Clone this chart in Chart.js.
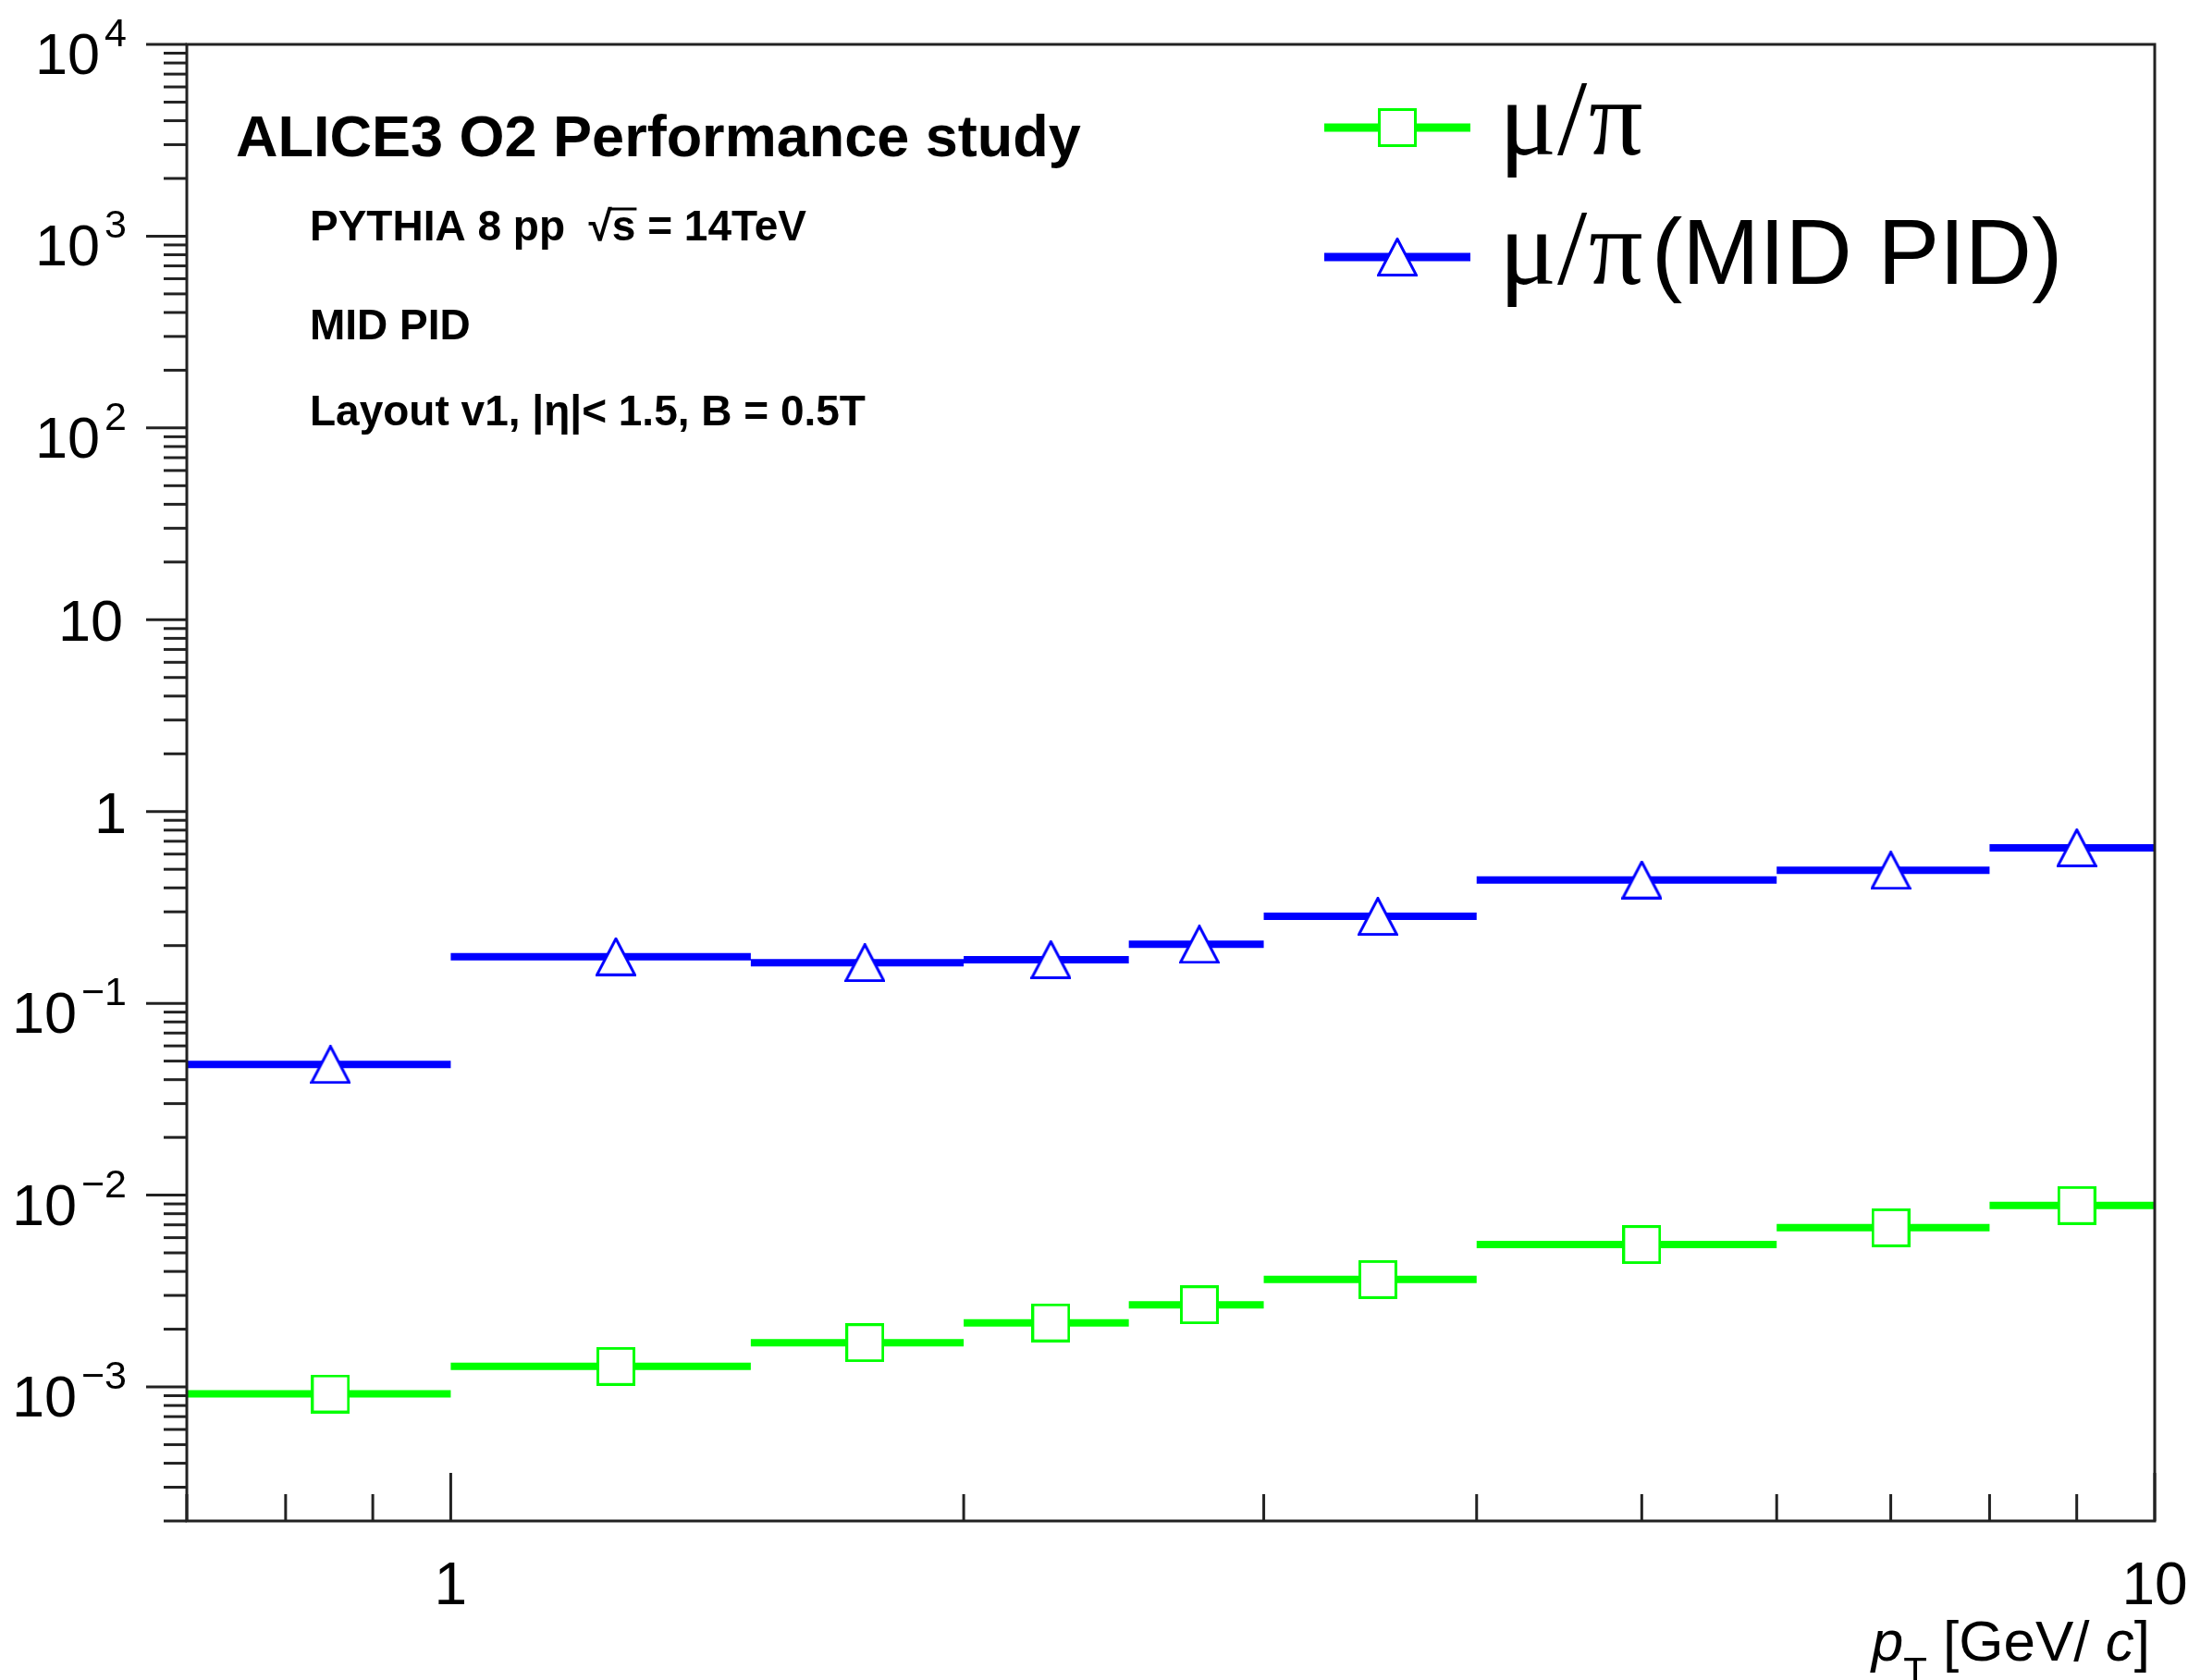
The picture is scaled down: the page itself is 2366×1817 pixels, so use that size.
<!DOCTYPE html>
<html>
<head>
<meta charset="utf-8">
<script src="https://cdn.jsdelivr.net/npm/chart.js@4.4.1/dist/chart.umd.min.js"></script>
<style>
  html, body { margin: 0; padding: 0; background: #fff; }
  canvas { display: block; }
</style>
</head>
<body>
<canvas id="canvas" width="2366" height="1817"></canvas>
<script>
// pT bin edges [GeV/c]
let binEdges = [0.7, 1, 1.5, 2, 2.5, 3, 4, 6, 8, 10];

// mu/pi ratio per bin
let muPi = [0.00092, 0.00128, 0.0017, 0.00216, 0.00268, 0.00363, 0.00552, 0.00676, 0.00883];

// mu/pi ratio per bin with MID PID
let muPiMID = [0.048, 0.175, 0.163, 0.169, 0.203, 0.284, 0.44, 0.494, 0.647];

// axis labels ('^' separates the exponent)
let yTickValues = [1e-3, 1e-2, 1e-1, 1, 10, 100, 1000, 10000];
let yTickLabels = ['10^\u22123', '10^\u22122', '10^\u22121', '1', '10', '10^2', '10^3', '10^4'];
let xTickValues = [1, 10];
let xTickLabels = ['1', '10'];

let seriesNames = ['\u03bc/\u03c0', '\u03bc/\u03c0(MID PID)'];

const GREEN = '#00ff00';
const BLUE = '#0000ff';
const SANS = '"Liberation Sans", Arial, Helvetica, sans-serif';
const SERIF = '"Liberation Serif", "Times New Roman", serif';

// histogram as flat segments, one per bin, with a gap after each
function histSegments(values) {
  let pts = [];
  for (let i = 0; i < values.length; i++) {
    pts.push({x: binEdges[i], y: values[i]});
    pts.push({x: binEdges[i + 1], y: values[i]});
    pts.push({x: binEdges[i + 1], y: null});
  }
  return pts;
}

// markers sit at the bin centres
function binCentres(values) {
  let pts = [];
  for (let i = 0; i < values.length; i++) {
    pts.push({x: (binEdges[i] + binEdges[i + 1]) / 2, y: values[i]});
  }
  return pts;
}

// open markers like ROOT's (white inside)
function makeMarker(shape, color, w, h) {
  let c = document.createElement('canvas');
  c.width = w; c.height = h;
  let g = c.getContext('2d');
  g.fillStyle = '#fff';
  g.strokeStyle = color;
  g.lineWidth = 3;
  g.beginPath();
  if (shape === 'square') {
    g.rect(1.5, 1.5, w - 3, h - 3);
  } else {
    g.moveTo(w / 2, 1.5);
    g.lineTo(w - 1.5, h - 1.5);
    g.lineTo(1.5, h - 1.5);
    g.closePath();
  }
  g.fill();
  g.stroke();
  return c;
}

let squareMarker = makeMarker('square', GREEN, 42, 42);
let triangleMarker = makeMarker('triangle', BLUE, 44, 42);

function strokeLine(ctx, x1, y1, x2, y2) {
  ctx.beginPath();
  ctx.moveTo(x1, y1);
  ctx.lineTo(x2, y2);
  ctx.stroke();
}

// frame, ticks, labels, texts and legend drawn ROOT style
const rootStyle = {
  id: 'rootStyle',
  afterDatasetsDraw(chart) {
    let ctx = chart.ctx;
    let a = chart.chartArea;
    let xs = chart.scales.x;
    let ys = chart.scales.y;
    ctx.save();

    // frame
    ctx.strokeStyle = '#222';
    ctx.lineWidth = 3;
    ctx.strokeRect(a.left, a.top, a.right - a.left, a.bottom - a.top);

    // y ticks, outward
    for (let e = -4; e <= 4; e++) {
      for (let m = 1; m <= 9; m++) {
        let v = m * Math.pow(10, e);
        if (v < 2e-4 * 0.999 || v > 1e4 * 1.001) continue;
        let y = ys.getPixelForValue(v);
        let len = (m === 1) ? 44 : 25;
        strokeLine(ctx, a.left - len, y, a.left, y);
      }
    }
    // x ticks, inward
    for (let e = -1; e <= 1; e++) {
      for (let m = 1; m <= 9; m++) {
        let v = m * Math.pow(10, e);
        if (v < 0.7 * 0.999 || v > 10 * 1.001) continue;
        let x = xs.getPixelForValue(v);
        let len = (m === 1) ? 52 : 29;
        strokeLine(ctx, x, a.bottom, x, a.bottom - len);
      }
    }

    // y labels
    ctx.fillStyle = '#000';
    ctx.textAlign = 'right';
    ctx.textBaseline = 'alphabetic';
    for (let i = 0; i < yTickValues.length; i++) {
      let y = ys.getPixelForValue(yTickValues[i]);
      let parts = yTickLabels[i].split('^');
      let right = 137;
      if (parts.length === 2) {
        ctx.font = '43px ' + SANS;
        let supW = ctx.measureText(parts[1]).width;
        ctx.fillText(parts[1], right, y + 2);
        ctx.font = '63px ' + SANS;
        ctx.fillText(parts[0], right - supW - 5, y + 32);
      } else {
        ctx.font = '63px ' + SANS;
        ctx.fillText(parts[0], parts[0] === '10' ? 133 : right, y + 23);
      }
    }

    // x labels
    ctx.textAlign = 'center';
    ctx.font = '64px ' + SANS;
    for (let i = 0; i < xTickValues.length; i++) {
      ctx.fillText(xTickLabels[i], xs.getPixelForValue(xTickValues[i]), 1735);
    }

    // x title: p_T [GeV/c], right aligned
    let pieces = [
      {t: 'p', f: 'italic 62px ' + SANS, dy: 0},
      {t: 'T', f: '42px ' + SANS, dy: 26},
      {t: ' [GeV/ ', f: '62px ' + SANS, dy: 0},
      {t: 'c', f: 'italic 62px ' + SANS, dy: 0},
      {t: ']', f: '62px ' + SANS, dy: 0}
    ];
    let total = 0;
    for (let p of pieces) { ctx.font = p.f; p.w = ctx.measureText(p.t).width; total += p.w; }
    let px = 2325 - total;
    ctx.textAlign = 'left';
    for (let p of pieces) {
      ctx.font = p.f;
      ctx.fillText(p.t, px, 1796 + p.dy);
      px += p.w;
    }

    // header texts
    ctx.font = 'bold 63px ' + SANS;
    ctx.fillText('ALICE3 O2 Performance study', 255, 169);
    ctx.font = 'bold 46px ' + SANS;
    let t1 = 'PYTHIA 8 pp  \u221a';
    ctx.fillText(t1, 335, 260);
    let sx = 335 + ctx.measureText(t1).width;
    let sw = ctx.measureText('s').width;
    ctx.fillText('s', sx, 260);
    ctx.lineWidth = 3;
    ctx.strokeStyle = '#000';
    strokeLine(ctx, sx - 2, 226, sx + sw + 1, 226);
    ctx.fillText(' = 14TeV', sx + sw, 260);
    ctx.fillText('MID PID', 335, 367);
    ctx.fillText('Layout v1, |\u03b7|< 1.5, B = 0.5T', 335, 460);

    // legend
    let entries = [
      {color: GREEN, marker: squareMarker, y: 138, name: seriesNames[0]},
      {color: BLUE, marker: triangleMarker, y: 278, name: seriesNames[1]}
    ];
    for (let en of entries) {
      ctx.strokeStyle = en.color;
      ctx.lineWidth = 9;
      strokeLine(ctx, 1432, en.y, 1590, en.y);
      ctx.drawImage(en.marker, 1511 - en.marker.width / 2, en.y - en.marker.height / 2);
      // greek part in serif, rest in sans
      let base = en.y + 29;
      ctx.font = '116px ' + SERIF;
      ctx.fillText('\u03bc', 1621, base);
      ctx.fillText('/', 1684, base);
      ctx.fillText('\u03c0', 1718, base);
      let rest = en.name.slice(3);
      if (rest) {
        ctx.font = '100px ' + SANS;
        ctx.fillText(rest, 1786, base);
      }
    }

    ctx.restore();
  }
};

let options = {
  type: 'scatter',
  data: {
    datasets: [
      {
        data: binCentres(muPi),
        pointStyle: squareMarker,
        pointRadius: 21,
        order: 0
      },
      {
        data: binCentres(muPiMID),
        pointStyle: triangleMarker,
        pointRadius: 21,
        order: 0
      },
      {
        data: histSegments(muPi),
        showLine: true,
        spanGaps: false,
        borderColor: GREEN,
        borderWidth: 8,
        borderCapStyle: 'butt',
        pointRadius: 0,
        order: 1
      },
      {
        data: histSegments(muPiMID),
        showLine: true,
        spanGaps: false,
        borderColor: BLUE,
        borderWidth: 8,
        borderCapStyle: 'butt',
        pointRadius: 0,
        order: 1
      }
    ]
  },
  options: {
    responsive: false,
    devicePixelRatio: 1,
    animation: false,
    layout: {
      padding: {left: 202, top: 48, right: 36, bottom: 172}
    },
    scales: {
      x: {type: 'logarithmic', min: 0.7, max: 10, display: false},
      y: {type: 'logarithmic', min: 2e-4, max: 1e4, display: false}
    },
    plugins: {
      legend: {display: false},
      tooltip: {enabled: false}
    }
  },
  plugins: [rootStyle]
};

let chart = new Chart(document.getElementById('canvas'), options);
</script>
</body>
</html>
